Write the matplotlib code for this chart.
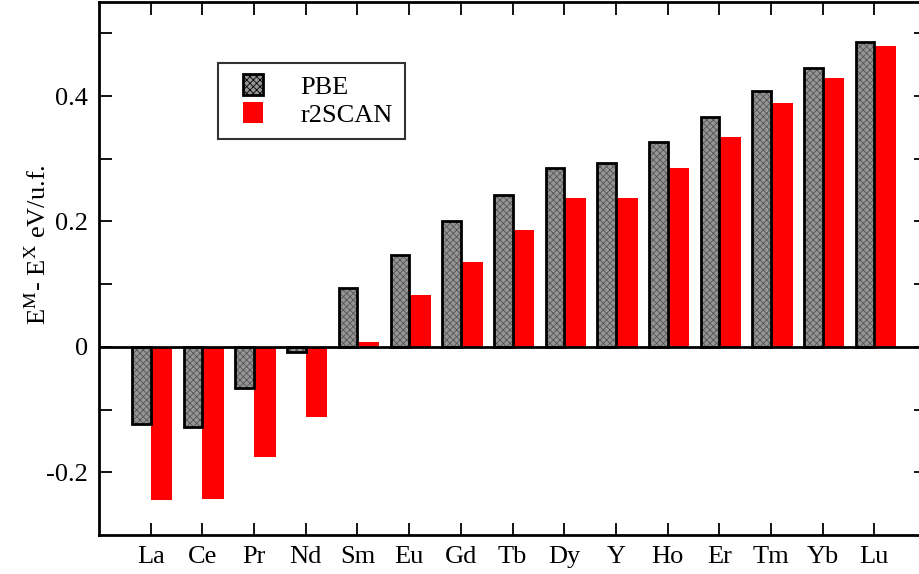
import numpy as np
import matplotlib
matplotlib.use("Agg")
import matplotlib.pyplot as plt
from matplotlib.patches import Patch, Rectangle
from matplotlib.legend_handler import HandlerPatch

# formation energy differences, eV/u.f.
elements = ['La', 'Ce', 'Pr', 'Nd', 'Sm', 'Eu', 'Gd', 'Tb', 'Dy', 'Y', 'Ho', 'Er', 'Tm', 'Yb', 'Lu']
pbe = [-0.123, -0.128, -0.066, -0.008, 0.094, 0.147, 0.200, 0.243, 0.285, 0.293,
       0.326, 0.366, 0.408, 0.445, 0.486]
r2scan = [-0.245, -0.243, -0.176, -0.112, 0.008, 0.082, 0.136, 0.187, 0.237, 0.237,
          0.286, 0.334, 0.389, 0.429, 0.480]

plt.rcParams['font.family'] = ['Liberation Serif', 'DejaVu Serif']
plt.rcParams['mathtext.fontset'] = 'stix'
plt.rcParams['hatch.linewidth'] = 0.6
plt.rcParams['hatch.color'] = '#555555'

fig = plt.figure(figsize=(9.19, 5.74), dpi=100)
ax = fig.add_axes([0.1077, 0.068, 0.900, 0.9285])

x = np.arange(1, len(elements) + 1)

# PBE: grey checker fill, then a black outline on top
ax.bar(x - 0.36, pbe, width=0.36, align='edge', color='#959595',
       hatch='xxxxx', linewidth=0, zorder=2)
ax.bar(x - 0.36, pbe, width=0.36, align='edge', fill=False,
       edgecolor='black', linewidth=2, zorder=3)
ax.bar(x, r2scan, width=0.42, align='edge', color='#ff0000', linewidth=0, zorder=2)

ax.axhline(0, color='black', linewidth=2, zorder=4)

ax.set_xlim(0, 16)
ax.set_ylim(-0.3, 0.55)
ax.set_xticks(x)
ax.set_xticklabels(elements)
ax.set_yticks([-0.2, 0, 0.2, 0.4])
ax.set_yticklabels(['-0.2', '0', '0.2', '0.4'])
ax.set_yticks([-0.1, 0.1, 0.3, 0.5], minor=True)

ax.tick_params(axis='both', which='both', direction='in', length=9, width=1.3,
               top=True, right=True, labelsize=19, pad=8)
for s in ax.spines.values():
    s.set_linewidth(2)

ax.set_ylabel(r'E$^{\mathrm{M}}$- E$^{\mathrm{X}}$ eV/u.f.', fontsize=19)
ax.yaxis.set_label_coords(-0.058, 0.545)


def small_square(legend, orig_handle, xdescent, ydescent, width, height, fontsize):
    # square sitting in the middle of a wider handle box
    return Rectangle((-xdescent + 0.3 * width, -ydescent - 0.05 * height),
                     0.45 * width, 1.1 * height)


handles = [Patch(facecolor='#959595', hatch='xxxxx', edgecolor='black', linewidth=2),
           Patch(facecolor='#ff0000', linewidth=0)]
leg = ax.legend(handles, ['PBE', 'r2SCAN'], loc='upper left',
                bbox_to_anchor=(0.144, 0.885), fontsize=19, frameon=True,
                fancybox=False, handlelength=1.67, handleheight=0.75,
                handletextpad=1.0, borderpad=0.45, labelspacing=0.15,
                borderaxespad=0,
                handler_map={Patch: HandlerPatch(patch_func=small_square)})
leg.get_frame().set_edgecolor('black')
leg.get_frame().set_linewidth(1.5)

fig.savefig('out.png', dpi=100)
